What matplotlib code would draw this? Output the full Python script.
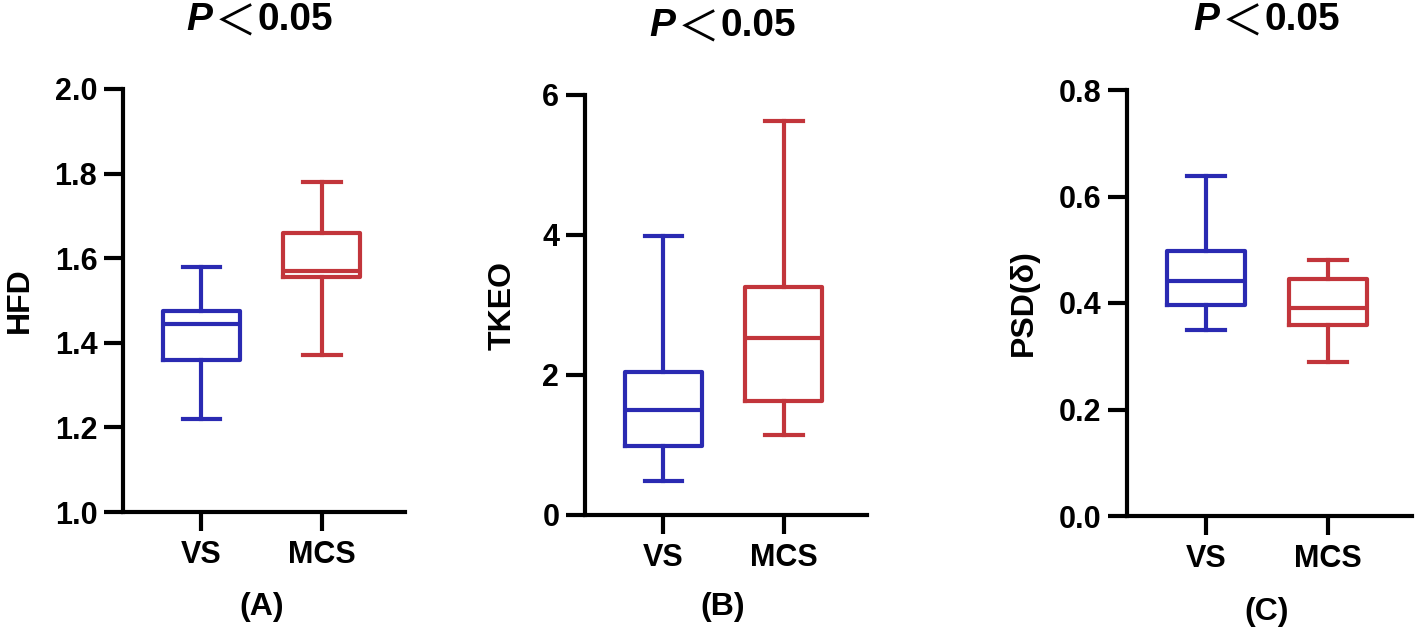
import matplotlib
matplotlib.use("Agg")
import matplotlib.pyplot as plt

# ---------------- data ----------------
groups = ["VS", "MCS"]
panel_letters = ["(A)", "(B)", "(C)"]
ylabels = ["HFD", "TKEO", "PSD(δ)"]
p_text = "0.05"

# whislo, q1, median, q3, whishi
hfd_vs = [1.22, 1.36, 1.445, 1.475, 1.58]
hfd_mcs = [1.37, 1.555, 1.57, 1.66, 1.78]
tkeo_vs = [0.49, 0.99, 1.50, 2.05, 3.98]
tkeo_mcs = [1.14, 1.63, 2.53, 3.26, 5.63]
psd_vs = [0.35, 0.397, 0.441, 0.497, 0.639]
psd_mcs = [0.289, 0.359, 0.39, 0.446, 0.48]

hfd_ticks = [1.0, 1.2, 1.4, 1.6, 1.8, 2.0]
tkeo_ticks = [0, 2, 4, 6]
psd_ticks = [0.0, 0.2, 0.4, 0.6, 0.8]
hfd_ticklabels = ["1.0", "1.2", "1.4", "1.6", "1.8", "2.0"]
tkeo_ticklabels = ["0", "2", "4", "6"]
psd_ticklabels = ["0.0", "0.2", "0.4", "0.6", "0.8"]

# ---------------- style ----------------
BLUE = "#2a2ab2"
RED = "#c2353b"
colors = [BLUE, RED]
FONT = "Liberation Sans"
LW = 3.0

W, H = 1417, 633
fig = plt.figure(figsize=(W / 100, H / 100), dpi=100)

# axes rectangles in pixels: left, top, right, bottom
rects_px = [(123, 89, 405, 512), (585, 95, 867, 515), (1127, 90, 1412, 516)]
title_px = [(260.5, 20), (723.5, 26), (1267.5, 20)]
letter_px = [(262, 607), (723, 607), (1267, 612)]
ylabel_cx = [20, 503, 1024]

data = [(hfd_vs, hfd_mcs, hfd_ticks, hfd_ticklabels),
        (tkeo_vs, tkeo_mcs, tkeo_ticks, tkeo_ticklabels),
        (psd_vs, psd_mcs, psd_ticks, psd_ticklabels)]


def fx(x):
    return x / W


def fy(y):
    return 1 - y / H


for i, (vs, mcs, ticks, tlabels) in enumerate(data):
    l, t, r, b = rects_px[i]
    ax = fig.add_axes([fx(l), fy(b), (r - l) / W, (b - t) / H])
    for j, (st, c) in enumerate(zip([vs, mcs], colors)):
        stats = [dict(whislo=st[0], q1=st[1], med=st[2], q3=st[3],
                      whishi=st[4], fliers=[], label=groups[j])]
        ax.bxp(stats, positions=[j + 1], widths=0.64, showfliers=False,
               capwidths=0.31,
               boxprops=dict(color=c, linewidth=LW),
               whiskerprops=dict(color=c, linewidth=LW),
               capprops=dict(color=c, linewidth=LW),
               medianprops=dict(color=c, linewidth=LW),
               manage_ticks=False)
    ax.set_xlim(0.35, 2.69)
    ax.set_ylim(ticks[0], ticks[-1])
    ax.set_xticks([1, 2])
    ax.set_xticklabels(groups, fontfamily=FONT, fontweight="bold", fontsize=22)
    ax.set_yticks(ticks)
    ax.set_yticklabels(tlabels, fontfamily=FONT, fontweight="bold", fontsize=22)
    ax.tick_params(axis="both", length=13.5, width=LW, color="black")
    ax.tick_params(axis="y", pad=5)
    ax.tick_params(axis="x", pad=7)
    for s in ["top", "right"]:
        ax.spines[s].set_visible(False)
    for s in ["left", "bottom"]:
        ax.spines[s].set_linewidth(LW)
    ax.set_ylabel(ylabels[i], fontfamily=FONT, fontweight="bold", fontsize=23)
    ax.yaxis.label.set_va("center")
    ax.yaxis.set_label_coords((ylabel_cx[i] - l) / (r - l), 0.5)
    ax.patch.set_alpha(0)

    # title  P＜0.05
    cx, cy = title_px[i]
    fig.text(fx(cx - 74), fy(cy), "P", fontfamily=FONT, fontweight="bold",
             fontstyle="italic", fontsize=28, ha="left", va="center")
    fig.text(fx(cx - 25), fy(cy + 4), "＜", fontfamily="Noto Sans CJK SC",
             fontsize=30, ha="center", va="center")
    fig.text(fx(cx - 3), fy(cy), p_text, fontfamily=FONT, fontweight="bold",
             fontsize=28, ha="left", va="center")

    # panel letter
    lx, ly = letter_px[i]
    fig.text(fx(lx), fy(ly), panel_letters[i], fontfamily=FONT,
             fontweight="bold", fontsize=23, ha="center", va="center")

fig.savefig("out.png", dpi=100)
